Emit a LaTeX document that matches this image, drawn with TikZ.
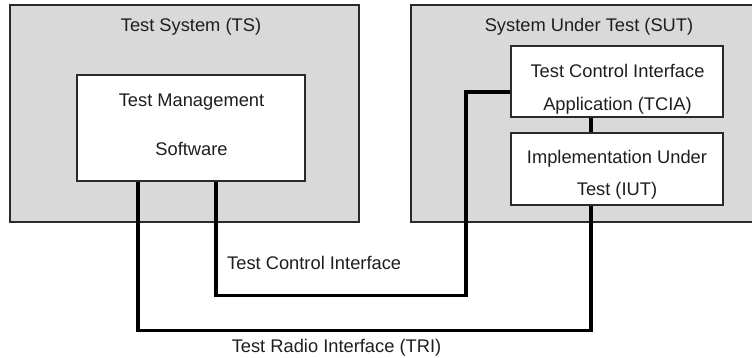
\documentclass[tikz,border=0pt]{standalone}
\usepackage{fontspec}
\setmainfont{Liberation Sans}
\definecolor{boxgray}{HTML}{D9D9D9}
\definecolor{edge}{HTML}{2A2A2A}
\definecolor{ink}{HTML}{1E1E1E}
\begin{document}
\begin{tikzpicture}[x=1pt,y=-1pt,
  outerbox/.style={draw=edge, line width=1.3pt, fill=boxgray, rectangle, inner sep=0pt},
  innerbox/.style={draw=edge, line width=1.1pt, fill=white, rectangle, inner sep=0pt},
  txt/.style={text=ink, font=\fontsize{18.3}{22}\selectfont, inner sep=0pt, anchor=base},
  wire/.style={draw=black, line width=3.3pt, line cap=butt}]
\useasboundingbox (0,0) rectangle (752,357);
% outer boxes
\node[outerbox, minimum width=349pt, minimum height=217pt] (ts) at (184.5,113.5) {};
\node[outerbox, minimum width=342pt, minimum height=217pt] (sut) at (582,113.5) {};
% inner boxes
\node[innerbox, minimum width=228pt, minimum height=106pt] (tms) at (191,128) {};
\node[innerbox, minimum width=212pt, minimum height=71pt] (tcia) at (617,81.5) {};
\node[innerbox, minimum width=212pt, minimum height=72pt] (iut) at (617,169) {};
% texts
\node[txt] (tstitle) at (191,31) {Test System (TS)};
\node[txt] (suttitle) at (589,31) {System Under Test (SUT)};
\node[txt] (tms1) at (191.5,106) {Test Management};
\node[txt] (tms2) at (191.5,155) {Software};
\node[txt] (tcia1) at (617.5,77) {Test Control Interface};
\node[txt] (tcia2) at (617.5,110) {Application (TCIA)};
\node[txt] (iut1) at (617,163) {Implementation Under};
\node[txt] (iut2) at (617,195) {Test (IUT)};
\node[txt, anchor=base west] (tcilabel) at (227,269) {Test Control Interface};
\node[txt] (trilabel) at (336.5,352.5) {Test Radio Interface (TRI)};
% connectors
\draw[wire] ([xshift=-53pt]tms.south) -- ++(0,149) -| ([xshift=-26pt]iut.south);
\draw[wire] ([xshift=25pt]tms.south) -- ++(0,114) -- ++(250,0) |- ([yshift=-10.5pt]tcia.west);
\draw[wire] ([xshift=-26pt]tcia.south) -- ([xshift=-26pt]iut.north);
\end{tikzpicture}
\end{document}
